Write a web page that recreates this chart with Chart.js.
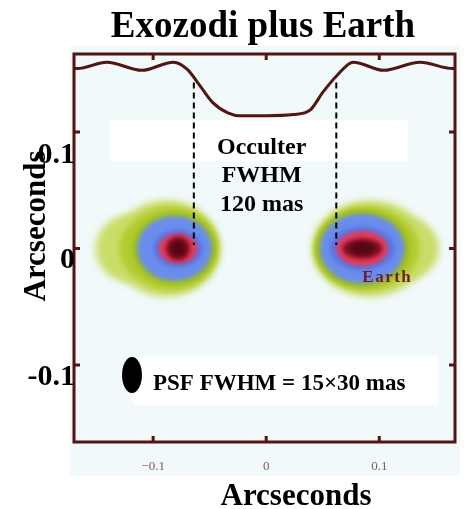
<!DOCTYPE html>
<html>
<head>
<meta charset="utf-8">
<title>Exozodi plus Earth</title>
<script src="https://cdn.jsdelivr.net/npm/chart.js"></script>
<style>
  html, body { margin: 0; padding: 0; background: #fff; }
</style>
</head>
<body>
<canvas id="grafico" width="464" height="509"></canvas>
<script>
// perfil de brillo del occultador (arcsec), dibujado sobre la imagen
const perfilX = [-0.170, -0.167, -0.141, -0.110, -0.082, -0.070, -0.058, -0.047, -0.034, -0.023, 0.000, 0.024, 0.039, 0.050, 0.063, 0.077, 0.104, 0.136, 0.165, 0.167];
const perfilY = [0.1545, 0.1545, 0.160, 0.153, 0.160, 0.154, 0.139, 0.125, 0.1165, 0.114, 0.114, 0.115, 0.119, 0.134, 0.149, 0.160, 0.153, 0.160, 0.1545, 0.1545];

// bordes del FWHM del occultador
const occultX = [-0.064, 0.062];
const occultY = [0.1425, 0.003];

// manchas: exozodi izquierda, exozodi + Tierra derecha
const manchaX = [-0.078, 0.085];
const manchaY = [0.0, 0.0];
const colaDx = [-0.042, 0.037], colaRx = [0.031, 0.031], colaRy = [0.029, 0.027];
const verdeDx = [-0.0106, 0.007], verdeRx = [0.0478, 0.0513], verdeRy = [0.0412, 0.0412];
const azulDx = [-0.003, 0.0], azulRx = [0.0332, 0.0376], azulRy = [0.0279, 0.030];
const rojoRx = [0.0173, 0.023], rojoRy = [0.0129, 0.015];
const nucleoRx = [0.0106, 0.0177], nucleoRy = [0.0103, 0.0086];

// PSF (elipse negra)
const psfX = -0.1187, psfY = -0.1085, psfRx = 0.0088, psfRy = 0.0155;

const ticksX = [-0.1, 0, 0.1];
const ticksY = [0.1, 0, -0.1];
const etiquetasX = ['\u22120.1', '0', '0.1'];
const etiquetasY = ['0.1', '0', '-0.1'];

const titulo = 'Exozodi plus Earth';
const tituloEje = 'Arcseconds';
const textoOcc = ['Occulter', 'FWHM', '120 mas'];
const textoPsf = 'PSF FWHM = 15\u00d730 mas';
const textoTierra = 'Earth';

const MARRON = '#521511';
const SERIF = '"Liberation Serif", "DejaVu Serif", serif';

function elipse(ctx, xs, ys, cx, cy, rx, ry) {
  const px = xs.getPixelForValue(cx), py = ys.getPixelForValue(cy);
  const prx = Math.abs(xs.getPixelForValue(cx + rx) - px);
  const pry = Math.abs(ys.getPixelForValue(cy + ry) - py);
  ctx.beginPath();
  ctx.ellipse(px, py, prx, pry, 0, 0, Math.PI * 2);
  ctx.fill();
}

function rect(ctx, xs, ys, x0, x1, y0, y1) {
  const a = xs.getPixelForValue(x0), b = xs.getPixelForValue(x1);
  const c = ys.getPixelForValue(y0), d = ys.getPixelForValue(y1);
  ctx.fillRect(a, c, b - a, d - c);
}

const fondo = {
  id: 'fondo',
  beforeDraw(chart) {
    const { ctx, chartArea: a } = chart;
    ctx.save();
    ctx.fillStyle = '#fff';
    ctx.fillRect(0, 0, chart.width, chart.height);
    ctx.fillStyle = '#f1f9fa';
    ctx.fillRect(a.left - 4, a.top - 8, a.right - a.left + 9, a.bottom - a.top + 42);
    ctx.restore();
  },
  beforeDatasetsDraw(chart) {
    const { ctx } = chart;
    const xs = chart.scales.x, ys = chart.scales.y;
    ctx.save();
    for (let i = 0; i < manchaX.length; i++) {
      const cx = manchaX[i], cy = manchaY[i];
      // halo verde claro con la cola hacia afuera
      ctx.filter = 'blur(3.5px)';
      ctx.fillStyle = '#cadd68';
      elipse(ctx, xs, ys, cx + colaDx[i], cy, colaRx[i], colaRy[i]);
      elipse(ctx, xs, ys, cx + verdeDx[i], cy, verdeRx[i], verdeRy[i]);
      ctx.filter = 'blur(3px)';
      ctx.fillStyle = '#b2cc30';
      elipse(ctx, xs, ys, cx + colaDx[i] * 0.6, cy, colaRx[i] * 0.85, colaRy[i] * 0.85);
      elipse(ctx, xs, ys, cx + verdeDx[i] * 0.6, cy, verdeRx[i] * 0.88, verdeRy[i] * 0.88);
      ctx.filter = 'blur(2.5px)';
      ctx.fillStyle = '#9fbe18';
      elipse(ctx, xs, ys, cx + azulDx[i], cy, azulRx[i] * 1.12, azulRy[i] * 1.12);
      ctx.filter = 'blur(2px)';
      ctx.fillStyle = '#6a8ded';
      elipse(ctx, xs, ys, cx + azulDx[i], cy, azulRx[i], azulRy[i]);
      ctx.fillStyle = '#5676e4';
      elipse(ctx, xs, ys, cx, cy, rojoRx[i] * 1.25, rojoRy[i] * 1.25);
      ctx.fillStyle = '#e63a57';
      elipse(ctx, xs, ys, cx, cy, rojoRx[i], rojoRy[i]);
      ctx.fillStyle = '#7c0d22';
      elipse(ctx, xs, ys, cx, cy, nucleoRx[i], nucleoRy[i]);
      ctx.fillStyle = '#520713';
      elipse(ctx, xs, ys, cx, cy, nucleoRx[i] * 0.6, nucleoRy[i] * 0.6);
    }
    ctx.filter = 'none';

    // recuadros blancos de los textos
    ctx.fillStyle = '#ffffff';
    rect(ctx, xs, ys, -0.138, 0.1257, 0.1107, 0.0747);
    rect(ctx, xs, ys, -0.1177, 0.152, -0.0927, -0.134);

    ctx.fillStyle = '#000';
    elipse(ctx, xs, ys, psfX, psfY, psfRx, psfRy);
    ctx.restore();
  },
  afterDraw(chart) {
    const { ctx, chartArea: a } = chart;
    const xs = chart.scales.x, ys = chart.scales.y;
    ctx.save();

    // marco y ticks hacia adentro
    ctx.strokeStyle = MARRON;
    ctx.lineWidth = 3;
    ctx.strokeRect(a.left, a.top, a.right - a.left, a.bottom - a.top);
    ctx.beginPath();
    ticksX.forEach(v => {
      const px = xs.getPixelForValue(v);
      ctx.moveTo(px, a.top); ctx.lineTo(px, a.top + 6);
      ctx.moveTo(px, a.bottom); ctx.lineTo(px, a.bottom - 6);
    });
    ticksY.forEach(v => {
      const py = ys.getPixelForValue(v);
      ctx.moveTo(a.left, py); ctx.lineTo(a.left + 6, py);
      ctx.moveTo(a.right, py); ctx.lineTo(a.right - 6, py);
    });
    ctx.stroke();

    // etiquetas del eje x
    ctx.fillStyle = '#8a5a52';
    ctx.font = '13px ' + SERIF;
    ctx.textAlign = 'center';
    ctx.textBaseline = 'alphabetic';
    ticksX.forEach((v, i) => ctx.fillText(etiquetasX[i], xs.getPixelForValue(v), a.bottom + 28));

    // etiquetas del eje y
    const bajada = [31, 19, 20];
    ctx.fillStyle = '#000';
    ctx.font = 'bold 30px ' + SERIF;
    ctx.textAlign = 'right';
    ticksY.forEach((v, i) => ctx.fillText(etiquetasY[i], a.left + 1, ys.getPixelForValue(v) + bajada[i]));

    // título y nombres de ejes
    ctx.textAlign = 'center';
    ctx.font = 'bold 37px ' + SERIF;
    ctx.fillText(titulo, 263, 37);
    ctx.font = 'bold 31px ' + SERIF;
    ctx.fillText(tituloEje, 296, 505);
    ctx.save();
    ctx.translate(45, 226);
    ctx.rotate(-Math.PI / 2);
    ctx.fillText(tituloEje, 0, 0);
    ctx.restore();

    // textos dentro de la imagen
    ctx.font = 'bold 24px ' + SERIF;
    const ox = xs.getPixelForValue(-0.004);
    [154, 182, 211].forEach((y, i) => ctx.fillText(textoOcc[i], ox, y));
    ctx.font = 'bold 23px ' + SERIF;
    ctx.textAlign = 'left';
    ctx.fillText(textoPsf, 153, 390);

    ctx.fillStyle = '#6b1d2b';
    ctx.font = 'bold 17px ' + SERIF;
    ctx.letterSpacing = '1.5px';
    ctx.fillText(textoTierra, xs.getPixelForValue(0.085), ys.getPixelForValue(-0.0287));
    ctx.restore();
  }
};

const puntosPerfil = perfilX.map((x, i) => ({ x: x, y: perfilY[i] }));

new Chart(document.getElementById('grafico'), {
  type: 'scatter',
  data: {
    datasets: [
      {
        data: puntosPerfil,
        showLine: true,
        borderColor: MARRON,
        borderWidth: 3,
        pointRadius: 0,
        cubicInterpolationMode: 'monotone'
      },
      {
        data: [{ x: occultX[0], y: occultY[0] }, { x: occultX[0], y: occultY[1] }],
        showLine: true,
        borderColor: '#000',
        borderWidth: 2,
        borderDash: [6, 4],
        pointRadius: 0
      },
      {
        data: [{ x: occultX[1], y: occultY[0] }, { x: occultX[1], y: occultY[1] }],
        showLine: true,
        borderColor: '#000',
        borderWidth: 2,
        borderDash: [6, 4],
        pointRadius: 0
      }
    ]
  },
  options: {
    responsive: false,
    animation: false,
    layout: { padding: { left: 74, right: 9, top: 54, bottom: 67 } },
    plugins: { legend: { display: false }, tooltip: { enabled: false }, title: { display: false } },
    scales: {
      x: { type: 'linear', min: -0.17, max: 0.167, display: false },
      y: { type: 'linear', min: -0.166, max: 0.167, display: false }
    }
  },
  plugins: [fondo]
});
</script>
</body>
</html>
